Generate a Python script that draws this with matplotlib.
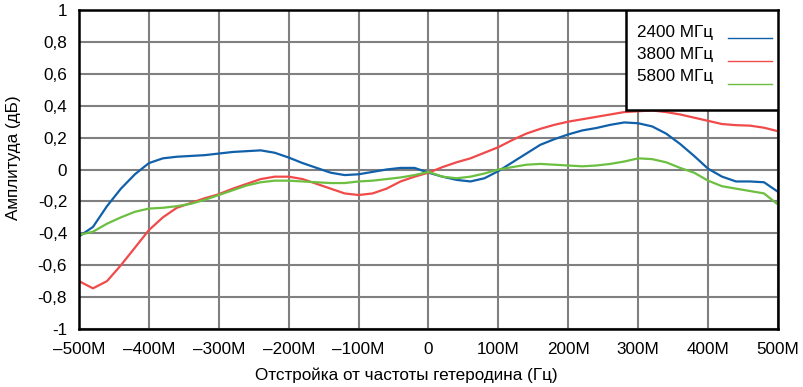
import numpy as np
import matplotlib
matplotlib.use('Agg')
import matplotlib.pyplot as plt
from matplotlib.patches import Rectangle
from matplotlib.lines import Line2D

plt.rcParams['font.family'] = ['Liberation Sans', 'DejaVu Sans']
FS = 12.3

# offset from the LO frequency, MHz (20 MHz step)
offset = np.arange(-500, 501, 20)

amp_2400 = [-0.42, -0.36, -0.23, -0.12, -0.03, 0.04, 0.07, 0.08, 0.085, 0.09,
            0.10, 0.11, 0.115, 0.12, 0.105, 0.075, 0.04, 0.01, -0.02, -0.035,
            -0.03, -0.015, 0.0, 0.01, 0.01, -0.02, -0.045, -0.065, -0.075, -0.055,
            -0.01, 0.045, 0.10, 0.155, 0.19, 0.22, 0.245, 0.26, 0.28, 0.295,
            0.29, 0.27, 0.225, 0.16, 0.085, 0.005, -0.045, -0.075, -0.075, -0.08,
            -0.14]
amp_3800 = [-0.70, -0.745, -0.70, -0.60, -0.49, -0.38, -0.30, -0.24, -0.21, -0.18,
            -0.155, -0.12, -0.09, -0.06, -0.045, -0.045, -0.06, -0.09, -0.12, -0.15,
            -0.16, -0.15, -0.12, -0.075, -0.045, -0.02, 0.015, 0.045, 0.07, 0.105,
            0.14, 0.185, 0.225, 0.255, 0.28, 0.30, 0.315, 0.33, 0.345, 0.36,
            0.365, 0.37, 0.36, 0.345, 0.325, 0.305, 0.285, 0.278, 0.275, 0.262,
            0.24]
amp_5800 = [-0.41, -0.39, -0.34, -0.30, -0.265, -0.245, -0.24, -0.23, -0.215, -0.19,
            -0.16, -0.13, -0.10, -0.08, -0.07, -0.07, -0.075, -0.08, -0.085, -0.085,
            -0.075, -0.07, -0.06, -0.05, -0.035, -0.015, -0.045, -0.055, -0.045, -0.025,
            0.0, 0.015, 0.03, 0.035, 0.03, 0.025, 0.02, 0.025, 0.035, 0.05,
            0.07, 0.065, 0.045, 0.01, -0.02, -0.07, -0.105, -0.12, -0.135, -0.15,
            -0.22]

series = [('2400 МГц', amp_2400, '#1060aa'),
          ('3800 МГц', amp_3800, '#f04a4a'),
          ('5800 МГц', amp_5800, '#6cbf40')]

x_ticks = np.arange(-500, 501, 100)
x_labels = ['–500M', '–400M', '–300M', '–200M', '–100M', '0',
            '100M', '200M', '300M', '400M', '500M']
y_ticks = np.arange(-1.0, 1.01, 0.2)
y_labels = ['-1', '-0,8', '-0,6', '-0,4', '-0,2', '0', '0,2', '0,4', '0,6', '0,8', '1']

fig = plt.figure(figsize=(8.04, 3.87), dpi=100)
ax = fig.add_axes([79 / 804, 1 - 329 / 387, 699 / 804, 319 / 387])

for name, vals, col in series:
    ax.plot(offset, vals, color=col, lw=1.6, zorder=3)

ax.set_xlim(-500, 500)
ax.set_ylim(-1, 1)
ax.set_xticks(x_ticks)
ax.set_xticklabels(x_labels)
ax.set_yticks(y_ticks)
ax.set_yticklabels(y_labels)
ax.tick_params(length=0, labelsize=FS)
ax.tick_params(axis='y', pad=8.5)
ax.tick_params(axis='x', pad=9.5)
ax.grid(True, color='#808080', lw=1.5, zorder=1)
ax.set_axisbelow(True)
for s in ax.spines.values():
    s.set_linewidth(1.8)
    s.set_color('black')
    s.set_zorder(5)

fig.text(406 / 804, 1 - 375 / 387, 'Отстройка от частоты гетеродина (Гц)',
         ha='center', va='center', fontsize=FS)
fig.text(14 / 804, 1 - 158 / 387, 'Амплитуда (дБ)', rotation=90,
         ha='center', va='center', fontsize=FS)

# legend box in the upper right corner
box = Rectangle((0.7825, 0.6865), 0.2175, 0.3135, transform=ax.transAxes,
                facecolor='white', edgecolor='black', lw=1.8, zorder=6)
ax.add_patch(box)
text_y = [33, 55, 77]
line_y = [38, 61, 84]
for (name, vals, col), ty, ly in zip(series, text_y, line_y):
    fig.text(637 / 804, 1 - ty / 387, name, ha='left', va='center',
             fontsize=FS, zorder=7)
    fig.add_artist(Line2D([728 / 804, 772 / 804], [1 - ly / 387, 1 - ly / 387],
                          transform=fig.transFigure, color=col, lw=1.0, zorder=7))

plt.savefig('out.png', dpi=100)
